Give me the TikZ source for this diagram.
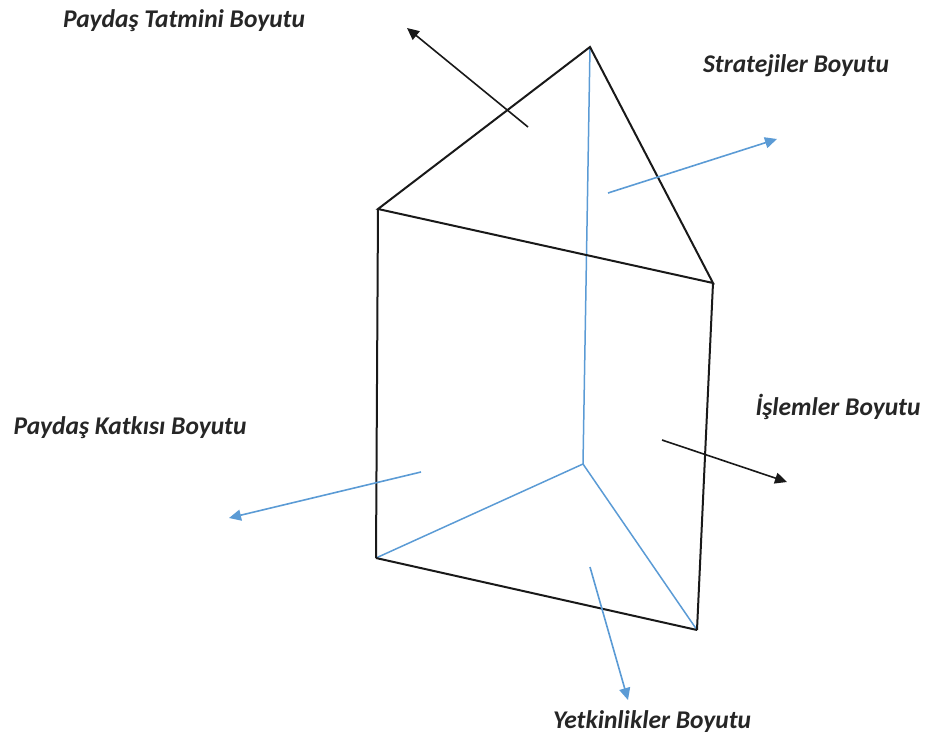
\documentclass[tikz,border=0pt]{standalone}
\usepackage{fontspec}
\setmainfont{Carlito}
\usetikzlibrary{arrows.meta}
\definecolor{obl}{RGB}{91,155,213}
\begin{document}
\begin{tikzpicture}[x=1pt,y=-1pt,
  edge/.style={line width=2pt,black!90},
  bedge/.style={line width=1.5pt,obl},
  barr/.style={line width=1.6pt,obl,-{Triangle[length=12pt,width=11pt]}},
  karr/.style={line width=1.6pt,black!90,-{Triangle[length=12pt,width=11pt]}},
  lbl/.style={font=\fontsize{25.5}{28}\selectfont\bfseries\itshape,text=black!85,inner sep=0pt}]
\useasboundingbox (0,0) rectangle (927,736);
% vertices
\coordinate (T) at (590,47);
\coordinate (L) at (378,209);
\coordinate (R) at (713,283);
\coordinate (BL) at (376,558);
\coordinate (BR) at (697,630);
\coordinate (B) at (583,464);
% hidden (blue) edges
\draw[bedge] (T) -- (B);
\draw[bedge] (B) -- (BL);
\draw[bedge] (B) -- (BR);
% visible edges
\draw[edge,line join=miter] (L) -- (T) -- (R) -- cycle;
\draw[edge] (L) -- (BL);
\draw[edge] (R) -- (BR);
\draw[edge] (BL) -- (BR);
% arrow anchors
\coordinate (a1s) at (528,127); \coordinate (a1e) at (407,28);
\coordinate (a2s) at (608,193); \coordinate (a2e) at (777,139);
\coordinate (a3s) at (421,472); \coordinate (a3e) at (229,518);
\coordinate (a4s) at (662,440); \coordinate (a4e) at (787,482);
\coordinate (a5s) at (590,567); \coordinate (a5e) at (628,700);
\draw[karr] (a1s) -- (a1e);
\draw[barr] (a2s) -- (a2e);
\draw[barr] (a3s) -- (a3e);
\draw[karr] (a4s) -- (a4e);
\draw[barr] (a5s) -- (a5e);
% labels
\node[lbl] (l1) at (184,21) {Paydaş Tatmini Boyutu};
\node[lbl] (l2) at (796,66) {Stratejiler Boyutu};
\node[lbl] (l3) at (130,428) {Paydaş Katkısı Boyutu};
\node[lbl] (l4) at (838,407) {İşlemler Boyutu};
\node[lbl] (l5) at (652,722) {Yetkinlikler Boyutu};
\end{tikzpicture}
\end{document}
